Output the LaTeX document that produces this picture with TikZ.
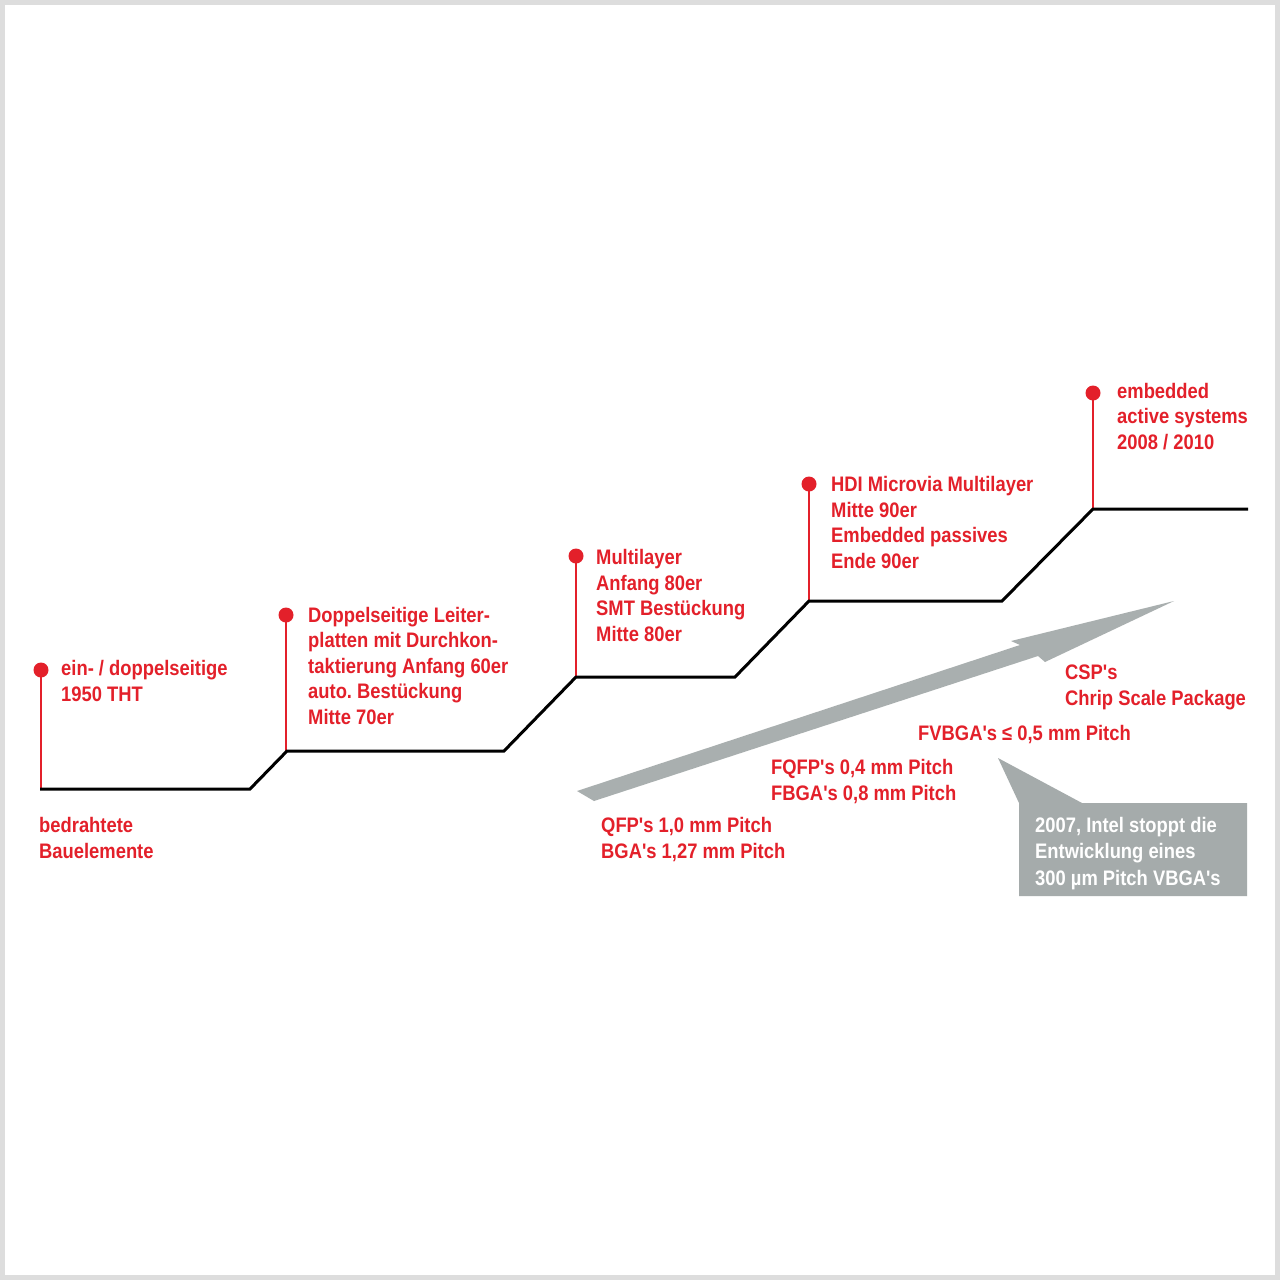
\documentclass[tikz,border=0pt]{standalone}
\usepackage{fontspec}
\setmainfont[FakeStretch=0.875, Ligatures=TeXOff]{Liberation Sans}
\definecolor{pcbred}{HTML}{E3202A}
\definecolor{arrowgray}{HTML}{A9AFAF}
\definecolor{boxgray}{HTML}{A5ABAB}
\definecolor{framegray}{HTML}{DDDDDD}
\frenchspacing
\begin{document}
\begin{tikzpicture}[x=1pt,y=-1pt,
  lbl/.style={anchor=base west, inner sep=0pt, align=left, text=pcbred,
    font=\bfseries\fontsize{21}{25.4}\selectfont},
  notetext/.style={anchor=base west, inner sep=0pt, align=left, text=white,
    font=\bfseries\fontsize{21}{26.5}\selectfont},
  stem/.style={draw=pcbred, line width=2.4pt},
  reddot/.style={circle, fill=pcbred, inner sep=0pt, minimum size=15pt},
  stair/.style={draw=black, line width=3pt, line join=miter}]
% frame
\fill[framegray] (0,0) rectangle (1280,1280);
\fill[white] (5,5) rectangle (1275,1275);
\useasboundingbox (0,0) rectangle (1280,1280);

% big gray arrow
\fill[arrowgray] (577,791) -- (1020,645) -- (1011,641) -- (1174,601)
  -- (1045,662) -- (1038,656) -- (594,801) -- cycle;

% callout box
\fill[boxgray] (998,758) -- (1082,803) -- (1247,803) -- (1247,896)
  -- (1019,896) -- (1019,803) -- cycle;
% (base anchor of a multi-line node = baseline of its last line)
\node[notetext] (note) at (1035,885) {2007, Intel stoppt die\\Entwicklung eines\\300 µm Pitch VBGA's};

% stair coordinates
\coordinate (c0) at (40,789);
\coordinate (c1) at (250,789);
\coordinate (c2) at (287,751);
\coordinate (c3) at (504,751);
\coordinate (c4) at (576,677);
\coordinate (c5) at (735,677);
\coordinate (c6) at (809,601);
\coordinate (c7) at (1002,601);
\coordinate (c8) at (1093,509);
\coordinate (c9) at (1248,509);

% stem bases
\coordinate (b1) at (41,789);
\coordinate (b2) at (286,751);
\coordinate (b3) at (576,677);
\coordinate (b4) at (809,601);
\coordinate (b5) at (1093,509);

% dots
\node[reddot] (d1) at (41,670) {};
\node[reddot] (d2) at (286,615) {};
\node[reddot] (d3) at (576,556) {};
\node[reddot] (d4) at (809,484) {};
\node[reddot] (d5) at (1093,393) {};

% stems
\draw[stem] (d1.center) -- (b1);
\draw[stem] (d2.center) -- (b2);
\draw[stem] (d3.center) -- (b3);
\draw[stem] (d4.center) -- (b4);
\draw[stem] (d5.center) -- (b5);

% stairs
\draw[stair] (c0) -- (c1) -- (c2) -- (c3) -- (c4) -- (c5) -- (c6) -- (c7) -- (c8) -- (c9);

% labels
\node[lbl] (t1) at (61,701) {ein- / doppelseitige\\1950 THT};
\node[lbl] (t0) at (39,858) {bedrahtete\\Bauelemente};
\node[lbl] (t2) at (308,724) {Doppelseitige Leiter-\\platten mit Durchkon-\\taktierung Anfang 60er\\auto. Bestückung\\Mitte 70er};
\node[lbl] (t3) at (596,641) {Multilayer\\Anfang 80er\\SMT Bestückung\\Mitte 80er};
\node[lbl] (t4) at (831,568) {HDI Microvia Multilayer\\Mitte 90er\\Embedded passives\\Ende 90er};
\node[lbl] (t5) at (1117,449) {embedded\\active systems\\2008 / 2010};
\node[lbl] (p4) at (1065,705) {CSP's\\Chrip Scale Package};
\node[lbl] (p3) at (918,740) {FVBGA's ≤ 0,5 mm Pitch};
\node[lbl] (p2) at (771,800) {FQFP's 0,4 mm Pitch\\FBGA's 0,8 mm Pitch};
\node[lbl] (p1) at (601,858) {QFP's 1,0 mm Pitch\\BGA's 1,27 mm Pitch};
\end{tikzpicture}
\end{document}
